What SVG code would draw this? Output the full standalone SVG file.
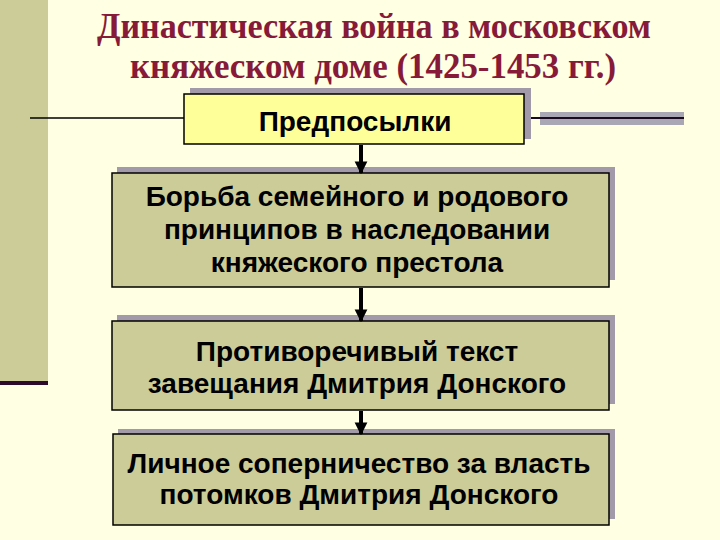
<svg xmlns="http://www.w3.org/2000/svg" width="720" height="540" viewBox="0 0 720 540">
<defs>
<style>
.title{font-family:"Liberation Serif","Times New Roman",serif;font-weight:bold;font-size:36px;fill:#861A38;text-anchor:middle}
.lbl{font-family:"Liberation Sans",Arial,sans-serif;font-weight:bold;font-size:28px;fill:#000;text-anchor:middle}
.shadow{fill:#A29AA8}
.box{fill:#CCCC99;stroke:#000;stroke-width:1.5}
.conn{stroke:#000;stroke-width:4;fill:none}
</style>
<marker id="ah" viewBox="0 0 10 10" refX="9" refY="5" markerWidth="3.2" markerHeight="3.8" orient="auto" markerUnits="strokeWidth">
<path d="M0,0 L10,5 L0,10 Z" fill="#000"/>
</marker>
</defs>
<rect width="720" height="540" fill="#FFFFE3"/>
<rect x="0" y="0" width="48" height="381" fill="#CCCC99"/>
<rect x="0" y="381" width="48" height="4" fill="#2E0A2A"/>
<rect x="540" y="112" width="144" height="13" fill="#A9A7B4"/>
<line x1="30" y1="118" x2="186" y2="118" stroke="#000" stroke-width="1.5"/>
<line x1="524" y1="118" x2="684" y2="118" stroke="#1A0A20" stroke-width="2"/>
<g id="title">
<text class="title" x="374" y="38" textLength="554" lengthAdjust="spacingAndGlyphs">Династическая война в московском</text>
<text class="title" x="373" y="78" textLength="486" lengthAdjust="spacingAndGlyphs">княжеском доме (1425-1453 гг.)</text>
</g>
<g id="n1">
<rect class="shadow" x="190" y="88" width="341" height="51"/>
<rect x="184" y="94" width="340" height="50" fill="#FFFF99" stroke="#000" stroke-width="1.5"/>
<text class="lbl" x="355" y="131">Предпосылки</text>
</g>
<g id="n2">
<rect class="shadow" x="117" y="167" width="498" height="113"/>
<rect class="box" x="112" y="173" width="497" height="114"/>
<text class="lbl" x="357" y="206">Борьба семейного и родового</text>
<text class="lbl" x="357" y="239">принципов в наследовании</text>
<text class="lbl" x="357" y="272">княжеского престола</text>
</g>
<g id="n3">
<rect class="shadow" x="117" y="315" width="498" height="89"/>
<rect class="box" x="112" y="321" width="497" height="89"/>
<text class="lbl" x="357" y="361">Противоречивый текст</text>
<text class="lbl" x="357" y="393">завещания Дмитрия Донского</text>
</g>
<g id="n4">
<rect class="shadow" x="118" y="429" width="497" height="90"/>
<rect class="box" x="113" y="434" width="496" height="91"/>
<text class="lbl" x="359" y="473">Личное соперничество за власть</text>
<text class="lbl" x="359" y="504">потомков Дмитрия Донского</text>
</g>
<g id="connectors">
<line class="conn" x1="361" y1="145" x2="361" y2="173" marker-end="url(#ah)"/>
<line class="conn" x1="361" y1="288" x2="361" y2="321" marker-end="url(#ah)"/>
<line class="conn" x1="361" y1="411" x2="361" y2="434" marker-end="url(#ah)"/>
</g>
</svg>
